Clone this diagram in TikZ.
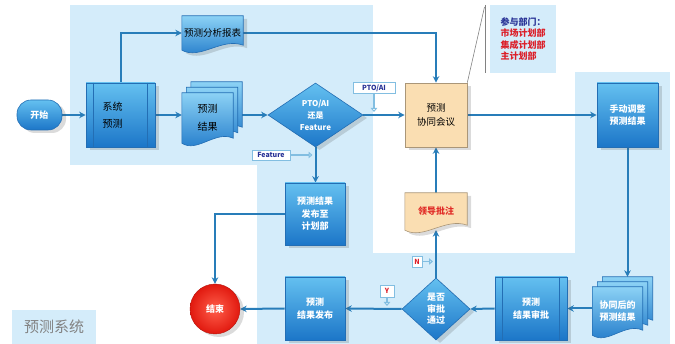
\documentclass[tikz,border=0pt]{standalone}
\usepackage{fontspec}
\setmainfont{Noto Sans CJK SC}
\usetikzlibrary{shapes.geometric,arrows.meta,calc,shadows,backgrounds}
\pgfdeclarelayer{bgl}
\pgfdeclarelayer{lines}
\pgfdeclarelayer{shapes}
\pgfsetlayers{bgl,lines,shapes,main}
\definecolor{bgblue}{RGB}{212,236,250}
\definecolor{linecol}{RGB}{40,125,185}
\definecolor{boxtop}{RGB}{100,192,240}
\definecolor{boxbot}{RGB}{28,118,200}
\definecolor{doctop}{RGB}{140,210,245}
\definecolor{boxline}{RGB}{35,110,180}
\definecolor{orfill}{RGB}{250,222,178}
\definecolor{orline}{RGB}{170,150,120}
\definecolor{lblborder}{RGB}{130,190,225}
\definecolor{lbltext}{RGB}{40,50,150}
\definecolor{lblred}{RGB}{220,30,40}
\definecolor{notered}{RGB}{225,45,40}
\definecolor{greytext}{RGB}{130,130,130}
\definecolor{endred}{RGB}{225,25,15}
\definecolor{endlight}{RGB}{255,95,75}
\newcommand\docshape[2]{%
  \path[#2] (#1.north west) -- (#1.north east) -- ($(#1.south east)+(0,-5)$)
    .. controls ($(#1.south east)!0.35!(#1.south west)+(0,-13)$) and ($(#1.south east)!0.7!(#1.south west)+(0,10)$)
    .. (#1.south west) -- cycle;}
\begin{document}
\begin{tikzpicture}[x=1pt,y=-1pt,
  shadowed/.style={drop shadow={shadow xshift=4pt,shadow yshift=-3pt,opacity=0.2,fill=black!70}},
  boxfont/.style={font=\bfseries\fontsize{9}{12.5}\selectfont},
  bbox/.style={rectangle,draw=boxline,line width=0.6pt,top color=boxtop,bottom color=boxbot,
    text=white,boxfont,align=center,inner sep=0pt,shadowed},
  orbox/.style={rectangle,draw=orline,line width=0.6pt,fill=orfill,text=black,
    font=\fontsize{9.5}{14}\selectfont,align=center,inner sep=0pt,shadowed},
  dia/.style={diamond,draw=boxline,line width=0.6pt,top color=boxtop,bottom color=boxbot,
    text=white,align=center,inner sep=0pt,shadowed},
  docnode/.style={rectangle,draw=none,inner sep=0pt,align=center},
  docblue/.style={draw=boxline,line width=0.6pt,top color=doctop,bottom color=boxbot},
  docorange/.style={draw=orline,line width=0.6pt,fill=orfill,shadowed},
  lbl/.style={rectangle,fill=white,draw=lblborder,line width=0.8pt,text=lbltext,
    font=\bfseries\fontsize{7}{8}\selectfont,inner sep=1pt},
  callout/.style={draw=lblborder,line width=1.3pt,-{Triangle[open,length=4pt,width=6.5pt]}},
  conn/.style={draw=linecol,line width=2pt,-{Stealth[length=6.5pt,width=6.5pt]}},
  procline/.style={draw=boxline,line width=0.6pt}]
\useasboundingbox (0,0) rectangle (675,344);
\begin{pgfonlayer}{bgl}
  \fill[bgblue] (70,5) rectangle (373,165);
  \fill[bgblue] (257,165) rectangle (373,344);
  \fill[bgblue] (373,253) rectangle (670,344);
  \fill[bgblue] (575,72) rectangle (670,253);
\end{pgfonlayer}
% notes
\node[rectangle,fill=bgblue,anchor=north west,minimum width=66pt,minimum height=68pt,
  align=left,inner sep=0pt,font=\bfseries\fontsize{9}{11.5}\selectfont] (dept) at (490,5)
  {\textcolor{lbltext}{参与部门：}\\\textcolor{lblred}{市场计划部}\\\textcolor{lblred}{集成计划部}\\\textcolor{lblred}{主计划部}};
\node[rectangle,fill=bgblue,minimum width=84pt,minimum height=34pt,text=greytext,
  font=\fontsize{15}{16}\selectfont,inner sep=0pt] (title) at (54,327) {预测系统};
% nodes
\node[bbox,rounded corners=14pt,minimum width=45pt,minimum height=30pt] (start) at (39.5,115) {开始};
\node[bbox,minimum width=69pt,minimum height=64pt,text=black,align=left,text width=36pt,
  font=\fontsize{10}{17}\selectfont] (sys) at (120.5,115) {系统\\预测};
\draw[procline] ($(sys.north west)+(8,0)$) -- ($(sys.south west)+(8,0)$);
\draw[procline] ($(sys.north east)+(-8,0)$) -- ($(sys.south east)+(-8,0)$);
\node[docnode,minimum width=61pt,minimum height=34pt,font=\fontsize{9.5}{12}\selectfont] (report) at (212.5,33) {预测分析报表};
\node[docnode,minimum width=51pt,minimum height=50pt] (resc) at (216.5,107) {};
\node[docnode,minimum width=51pt,minimum height=50pt] (resb) at (212,112.5) {};
\node[docnode,minimum width=51pt,minimum height=50pt,font=\fontsize{10}{18}\selectfont] (resa) at (207.5,118) {预测\\结果};
\begin{pgfonlayer}{shapes}
  \docshape{report}{docblue,shadowed}
  \docshape{resc}{docblue}
  \docshape{resb}{docblue}
  \docshape{resa}{docblue}
\end{pgfonlayer}
\node[dia,minimum width=95pt,minimum height=64pt,aspect=1.48,font=\bfseries\fontsize{8}{12}\selectfont] (dec1) at (315.5,115) {PTO/AI\\还是\\Feature};
\node[orbox,minimum width=62pt,minimum height=64pt] (meet) at (436,115) {预测\\协同会议};
\node[bbox,minimum width=61pt,minimum height=64pt] (adj) at (627.5,115) {手动调整\\预测结果};
\node[bbox,minimum width=60pt,minimum height=62pt] (pub1) at (315,214) {预测结果\\发布至\\计划部};
\node[circle,inner color=endlight,outer color=endred,draw=endred!80!black,line width=0.4pt,
  minimum size=50pt,inner sep=0pt,text=white,
  font=\bfseries\fontsize{9}{10}\selectfont,shadowed] (endc) at (215,309) {结束};
\node[bbox,minimum width=60pt,minimum height=63pt] (pub2) at (315,308.5) {预测\\结果发布};
\node[dia,minimum width=68pt,minimum height=62pt,aspect=1.1,font=\bfseries\fontsize{9}{11.5}\selectfont] (dec2) at (436,309) {是否\\审批\\通过};
\node[bbox,minimum width=72pt,minimum height=63pt] (appr) at (531,308.5) {预测\\结果审批};
\draw[procline] ($(appr.north west)+(8,0)$) -- ($(appr.south west)+(8,0)$);
\draw[procline] ($(appr.north east)+(-8,0)$) -- ($(appr.south east)+(-8,0)$);
\node[docnode,minimum width=50pt,minimum height=48pt] (collc) at (627.5,301) {};
\node[docnode,minimum width=50pt,minimum height=48pt] (collb) at (622.5,306) {};
\node[docnode,minimum width=50pt,minimum height=48pt,text=white,boxfont] (colla) at (617.5,311) {协同后的\\预测结果};
\node[docnode,minimum width=62pt,minimum height=37pt,text=notered,font=\bfseries\fontsize{9}{12}\selectfont] (note) at (436,211.5) {领导批注};
\begin{pgfonlayer}{shapes}
  \docshape{collc}{docblue}
  \docshape{collb}{docblue}
  \docshape{colla}{docblue}
  \docshape{note}{docorange}
\end{pgfonlayer}
% callout line
\draw[greytext,line width=1pt] (485,5) -- (485,73);
\draw[greytext,line width=0.6pt] (484.5,7) -- (meet.north east);
% labels
\node[lbl,minimum width=42pt,minimum height=11pt] (lpto) at (374,88) {PTO/AI};
\node[lbl,minimum width=38pt,minimum height=10pt] (lfeat) at (271,155) {Feature};
\node[lbl,text=lblred,minimum width=10pt,minimum height=11pt] (ln) at (417,261.5) {N};
\node[lbl,text=lblred,minimum width=14pt,minimum height=12pt] (ly) at (387,291) {Y};
\draw[callout] (lpto.south) -- ($(lpto.south |- dec1.east)+(0,-3)$);
\draw[callout] (lfeat.east) -- ($(lfeat.east -| dec1.south)+(-3,0)$);
\draw[callout] (ln.east) -- ($(ln.east -| dec2.north)+(-3,0)$);
\draw[callout] (ly.south) -- ($(ly.south |- dec2.west)+(0,-3)$);
% connectors
\begin{pgfonlayer}{lines}
  \draw[conn] (start.east) -- (sys.west);
  \draw[conn] (sys.east) -- (sys.east -| resa.west);
  \draw[conn] (sys.north) |- (report.west);
  \draw[conn] (report.east) -| (meet.north);
  \draw[conn] (resc.east |- dec1.west) -- (dec1.west);
  \draw[conn] (dec1.east) -- (meet.west);
  \draw[conn] (dec1.south) -- (dec1.south |- pub1.north);
  \draw[conn] (meet.east) -- (adj.west);
  \draw[conn] (adj.south) -- (adj.south |- collc.north);
  \draw[conn] (colla.west |- appr.east) -- (appr.east);
  \draw[conn] (appr.west) -- (dec2.east);
  \draw[conn] (dec2.west) -- (pub2.east);
  \draw[conn] (dec2.north) -- (note.south);
  \draw[conn] (note.north) -- (meet.south);
  \draw[conn] (pub2.west) -- (endc.east);
  \draw[conn] (pub1.west) -| (endc.north);
\end{pgfonlayer}
\end{tikzpicture}
\end{document}
